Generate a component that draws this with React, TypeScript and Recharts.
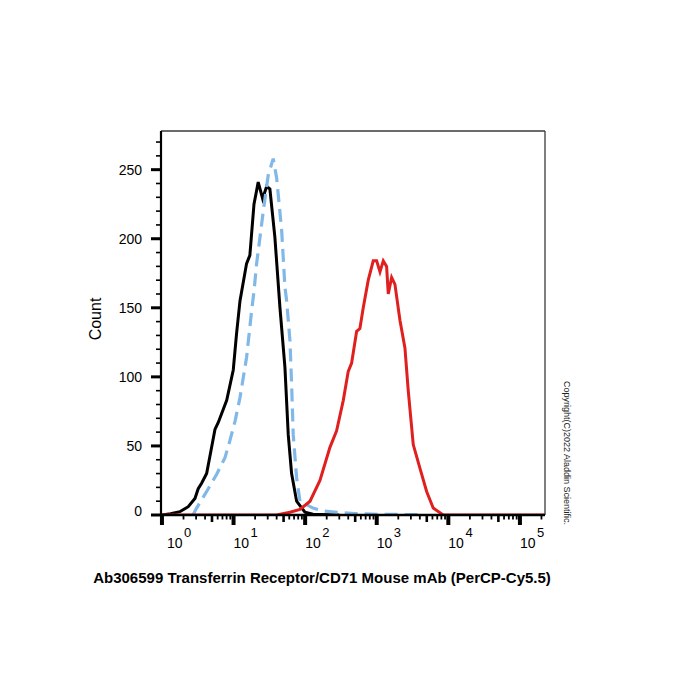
import { ComposedChart, Line, XAxis, YAxis, ReferenceLine } from "recharts";

// fluorescence intensity (log axis) and event count for each histogram
const blankX = [1, 1.32, 1.78, 2.33, 2.89, 3.21, 3.58, 4.21, 4.94, 5.5, 6.12, 8.02, 9.91, 11.0, 12.3, 15.2, 16.9, 19.3, 22.1, 25.5, 29.0, 32.2, 37.8, 44.5, 52.2, 58.1, 64.7, 76.0, 99.4, 128.5, 300];
const blankY = [0, 1, 2.4, 6, 12, 19, 23, 30, 49, 62, 67, 83, 105, 131, 155, 182, 188, 225, 241, 229, 238, 236, 201, 150, 107, 58, 30, 10, 2, 0.5, 0];

const isotypeX = [2.71, 3.05, 4.21, 5.81, 7.59, 8.91, 10.5, 12.3, 15.2, 17.9, 19.3, 21.0, 23.4, 26.0, 30.5, 35.8, 40.0, 47.0, 52.2, 55.2, 61.4, 64.7, 68.2, 76.0, 84.6, 128.5, 177, 278, 496, 1100, 4000];
const isotypeY = [0, 5, 17, 29.5, 41.5, 54, 68, 85, 114, 148, 162, 182, 201, 220, 246, 258, 244, 206, 165, 155, 126, 95, 58, 27, 10, 5, 3, 2, 1, 0.5, 0.3];

const stainedX = [1, 40, 61.4, 84.6, 117, 161, 222, 275, 341, 400, 446, 524, 582, 648, 761, 894, 997, 1110, 1234, 1374, 1449, 1615, 1796, 2110, 2477, 2755, 3236, 4009, 4977, 6152, 8492, 224000];
const stainedY = [0, 0, 2, 4, 10, 25, 49, 61, 83, 104, 110, 133, 135, 150, 170, 184, 184, 176, 184, 180, 160, 172, 167, 141, 121, 90, 51, 34, 17, 5, 0, 0];

const decades = [1, 10, 100, 1000, 10000, 100000];
const mantissas = [1, 2, 3, 4, 5, 6, 7, 8, 9];
const countTicks = [0, 10, 20, 30, 40, 50, 60, 70, 80, 90, 100, 110, 120, 130, 140, 150, 160, 170, 180, 190, 200, 210, 220, 230, 240, 250, 260, 270];

const X_MIN = 0.97;
const X_MAX = 224000;
const Y_MAX = 278;

const FONT = "Arial, 'Liberation Sans', sans-serif";

const xTicks = decades.flatMap((d) => mantissas.map((m) => d * m)).filter((v) => v <= X_MAX);

const toPoints = (xs: number[], ys: number[]) => xs.map((x, i) => ({ x, count: ys[i] }));

function XTick({ x, y, payload }: any) {
  const v: number = payload.value;
  const exp = Math.floor(Math.log10(v) + 1e-9);
  const mant = Math.round(v / 10 ** exp);
  const major = mant === 1;
  const mid = mant === 5;
  const len = major ? 10 : mid ? 7 : 4.5;
  const w = major ? 4 : mid ? 2.6 : 1.8;
  return (
    <g>
      <line x1={x} x2={x} y1={y} y2={y + len} stroke="#000" strokeWidth={w} />
      {major ? (
        <text x={x + (exp === 0 ? 5 : 0)} y={y + 33} fontSize={14} fontFamily={FONT} fill="#000">
          10
          <tspan dx={1.5} dy={-11} fontSize={13}>
            {exp}
          </tspan>
        </text>
      ) : null}
    </g>
  );
}

function YTick({ x, y, payload }: any) {
  const v: number = payload.value;
  const major = v % 50 === 0;
  return (
    <g>
      <line x1={x - (major ? 10 : 5)} x2={x} y1={y} y2={y} stroke="#000" strokeWidth={major ? 3 : 1.6} />
      {major ? (
        <text x={x - 19} y={v === 0 ? y - 4 : y} dy="0.35em" textAnchor="end" fontSize={14} fontFamily={FONT} fill="#000">
          {v}
        </text>
      ) : null}
    </g>
  );
}

export default function App() {
  return (
    <div style={{ position: "absolute", left: 0, top: 0, width: 700, height: 700, background: "#fff" }}>
      <ComposedChart width={700} height={700} margin={{ top: 131, right: 155, bottom: 0, left: 0 }}>
        <XAxis
          dataKey="x"
          type="number"
          scale="log"
          domain={[X_MIN, X_MAX]}
          allowDataOverflow
          ticks={xTicks}
          interval={0}
          tick={<XTick />}
          tickLine={false}
          tickSize={0}
          tickMargin={0}
          height={185}
          axisLine={{ stroke: "#000", strokeWidth: 2.5 }}
        />
        <YAxis
          type="number"
          domain={[0, Y_MAX]}
          allowDataOverflow
          ticks={countTicks}
          interval={0}
          tick={<YTick />}
          tickLine={false}
          tickSize={0}
          tickMargin={0}
          width={161}
          axisLine={{ stroke: "#000", strokeWidth: 2.2 }}
        />
        <ReferenceLine y={Y_MAX} stroke="#3a3a3a" strokeWidth={1.3} />
        <ReferenceLine x={X_MAX} stroke="#3a3a3a" strokeWidth={1.3} />
        <Line
          data={toPoints(blankX, blankY)}
          dataKey="count"
          type="linear"
          stroke="#000"
          strokeWidth={3}
          dot={false}
          isAnimationActive={false}
        />
        <Line
          data={toPoints(isotypeX, isotypeY)}
          dataKey="count"
          type="linear"
          stroke="#80b8e8"
          strokeWidth={3.2}
          strokeDasharray="13 7"
          dot={false}
          isAnimationActive={false}
        />
        <Line
          data={toPoints(stainedX, stainedY)}
          dataKey="count"
          type="linear"
          stroke="#e01f1f"
          strokeWidth={3}
          dot={false}
          isAnimationActive={false}
        />
      </ComposedChart>
      <svg width={700} height={700} style={{ position: "absolute", left: 0, top: 0, pointerEvents: "none" }}>
        <text x={95} y={319} transform="rotate(-90 95 319)" textAnchor="middle" dominantBaseline="central" fontSize={16} fontFamily={FONT} fill="#000">
          Count
        </text>
        <text x={322} y={583} textAnchor="middle" fontSize={15} fontWeight="bold" fontFamily={FONT} fill="#000">
          Ab306599 Transferrin Receptor/CD71 Mouse mAb (PerCP-Cy5.5)
        </text>
        <text x={566.5} y={453} transform="rotate(90 566.5 453)" textAnchor="middle" dominantBaseline="central" fontSize={9} fontFamily={FONT} fill="#222">
          Copyright(C)2022 Aladdin Scientific.
        </text>
      </svg>
    </div>
  );
}
